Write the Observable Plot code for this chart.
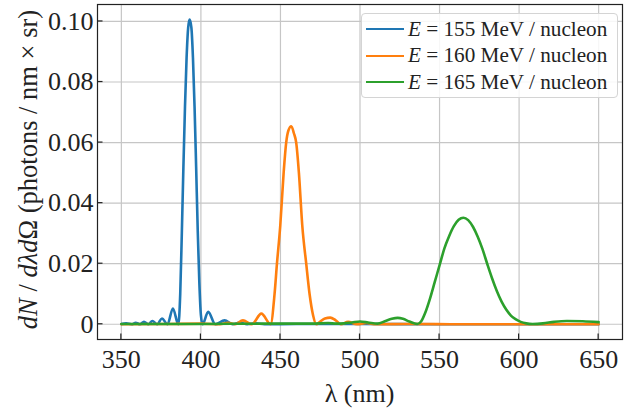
<!DOCTYPE html>
<html>
<head>
<meta charset="utf-8">
<script src="https://cdn.jsdelivr.net/npm/d3@7"></script>
<script src="https://cdn.jsdelivr.net/npm/@observablehq/plot@0.6"></script>
<style>
  html, body { margin: 0; padding: 0; background: #fff; }
  #wrap { position: relative; width: 632px; height: 413px; font-family: "Liberation Serif", "Times New Roman", serif; }
  #legend { position: absolute; left: 361px; top: 13px; width: 257px; height: 85px;
    border: 1px solid #d4d4d4; border-radius: 4px; background: rgba(255,255,255,0.85); box-sizing: border-box; }
  .row { position: absolute; left: 4px; height: 26px; display: flex; align-items: center; font-size: 21.2px; color: #222; white-space: nowrap; }
  .swatch { width: 38px; height: 0; border-top: 2.6px solid; margin-right: 4px; }
</style>
</head>
<body>
<div id="wrap"></div>
<script>
// ---- data ----
const xTicks = [350, 400, 450, 500, 550, 600, 650];
const xTickLabels = ["350", "400", "450", "500", "550", "600", "650"];
const yTicks = [0, 0.02, 0.04, 0.06, 0.08, 0.10];
const yTickLabels = ["0", "0.02", "0.04", "0.06", "0.08", "0.10"];

const seriesNames = ["155", "160", "165"];
const seriesColors = ["#1f77b4", "#ff7f0e", "#2ca02c"];

const lambda155 = [350, 353, 356.5, 359, 361.7, 364.2, 367, 369.5, 372.5, 375.5, 379, 382.4, 385.8, 387, 388, 389, 390, 391, 392, 392.9, 394, 395, 396, 397, 398, 399, 400, 401, 404.6, 409, 414.9, 420, 424.5, 429, 434, 440, 460, 500, 550, 600, 650];
const value155 = [0.0001, 0.0003, 0, 0.0005, 0, 0.0008, 0, 0.0011, 0, 0.0019, 0, 0.0052, 0, 0.010, 0.030, 0.052, 0.072, 0.088, 0.098, 0.1006, 0.098, 0.088, 0.072, 0.052, 0.031, 0.014, 0.003, 0, 0.0041, 0, 0.0013, 0, 0.0006, 0, 0.0003, 0, 0.0001, 0.0001, 0, 0, 0];

const lambda160 = [350, 380, 400, 412, 417, 421.5, 426.4, 432, 438, 443.8, 446.3, 447.8, 449.9, 452, 453.6, 455, 456.8, 458.5, 459.9, 461.6, 463.7, 466.2, 468.3, 470.5, 472.5, 475, 478, 481.3, 484.5, 488, 492.5, 498, 504, 510, 530, 560, 600, 650];
const value160 = [0, 0.0001, 0.0002, 0, 0.0005, 0, 0.0013, 0, 0.0035, 0, 0.010, 0.020, 0.0327, 0.050, 0.060, 0.064, 0.0654, 0.063, 0.060, 0.050, 0.0327, 0.020, 0.010, 0.003, 0, 0.0009, 0.0019, 0.0022, 0.0014, 0, 0.0008, 0, 0.0004, 0, 0.0001, 0, 0, 0];

const lambda165 = [350, 400, 440, 470, 480, 485, 490, 495, 500, 505, 511, 516, 520, 523.7, 527, 531, 536, 538.5, 541, 544, 547, 550.3, 553, 556, 559, 562, 565, 568, 571, 574, 577, 580, 583, 586, 589, 592, 595, 598, 601, 604.5, 608.5, 615, 622, 630, 640, 650];
const value165 = [0.0001, 0.0001, 0.0002, 0.0002, 0.0004, 0.0002, 0.0003, 0.0006, 0.0009, 0.0006, 0.0002, 0.0011, 0.0018, 0.0021, 0.0018, 0.0009, 0.0001, 0.0010, 0.0038, 0.0085, 0.0140, 0.0200, 0.0250, 0.0291, 0.0324, 0.0345, 0.0352, 0.0344, 0.0322, 0.0289, 0.0248, 0.0199, 0.0152, 0.0110, 0.0075, 0.0048, 0.0028, 0.0016, 0.0008, 0.0003, 0.0001, 0.0003, 0.0008, 0.0011, 0.0010, 0.0007];

const seriesLambda = [lambda155, lambda160, lambda165];
const seriesValue = [value155, value160, value165];

// ---- build table ----
const rows = [];
seriesNames.forEach((name, s) => {
  seriesLambda[s].forEach((l, i) => rows.push({series: name, lambda: l, value: seriesValue[s][i]}));
});

const FONT = "Liberation Serif, Times New Roman, serif";

const plot = Plot.plot({
  width: 632,
  height: 413,
  marginLeft: 97,
  marginRight: 10,
  marginTop: 4,
  marginBottom: 74,
  style: {fontFamily: FONT, fontSize: "26px", color: "#222", background: "#fff"},
  x: {domain: [335, 665]},
  y: {domain: [-0.00503, 0.1056]},
  color: {domain: seriesNames, range: seriesColors},
  marks: [
    Plot.gridX(xTicks, {stroke: "#c6c6c6", strokeOpacity: 1, strokeWidth: 1.2}),
    Plot.gridY(yTicks, {stroke: "#c6c6c6", strokeOpacity: 1, strokeWidth: 1.2}),
    Plot.axisX(xTicks, {tickSize: 0, tickPadding: 10, label: null, fontSize: 26,
      tickFormat: d => xTickLabels[xTicks.indexOf(d)]}),
    Plot.axisY(yTicks, {tickSize: 0, tickPadding: 4, label: null, fontSize: 26,
      tickFormat: d => yTickLabels[yTicks.indexOf(d)]}),
    Plot.line(rows, {x: "lambda", y: "value", z: "series", stroke: "series", strokeWidth: 2.6, curve: "monotone-x"}),
    Plot.frame({stroke: "#222", strokeWidth: 1.2})
  ]
});

document.getElementById("wrap").appendChild(plot);

// inward ticks drawn with the plot's own scales
const sx = plot.scale("x"), sy = plot.scale("y");
const svg = d3.select(plot);
const x0 = sx.range[0], yb = sy.range[0];
const tg = svg.append("g").attr("stroke", "#222").attr("stroke-width", 1.2);
xTicks.forEach(t => {
  const px = sx.apply(t);
  tg.append("line").attr("x1", px).attr("x2", px).attr("y1", yb).attr("y2", yb - 5.5);
});
yTicks.forEach(t => {
  const py = sy.apply(t);
  tg.append("line").attr("x1", x0).attr("x2", x0 + 5.5).attr("y1", py).attr("y2", py);
});

// axis titles
const midX = (sx.range[0] + sx.range[1]) / 2;
const midY = (sy.range[0] + sy.range[1]) / 2;
svg.append("text").attr("x", midX).attr("y", 402).attr("text-anchor", "middle")
  .attr("font-size", 26).attr("fill", "#222").text("λ (nm)");
const yl = svg.append("text").attr("transform", `translate(37,${midY - 2}) rotate(-90)`)
  .attr("text-anchor", "middle").attr("font-size", 26.5).attr("fill", "#222");
yl.append("tspan").attr("font-style", "italic").text("dN");
yl.append("tspan").text(" / ");
yl.append("tspan").attr("font-style", "italic").text("dλd");
yl.append("tspan").text("Ω (photons / nm × sr)");

svg.attr("font-family", FONT).style("font-family", FONT);

// legend
const legend = document.createElement("div");
legend.id = "legend";
seriesNames.forEach((name, s) => {
  const r = document.createElement("div");
  r.className = "row";
  r.style.top = (2 + s * 26.5) + "px";
  r.innerHTML = `<span class="swatch" style="border-color:${seriesColors[s]}"></span><i>E</i>&nbsp;=&nbsp;${name} MeV / nucleon`;
  legend.appendChild(r);
});
document.getElementById("wrap").appendChild(legend);
</script>
</body>
</html>
